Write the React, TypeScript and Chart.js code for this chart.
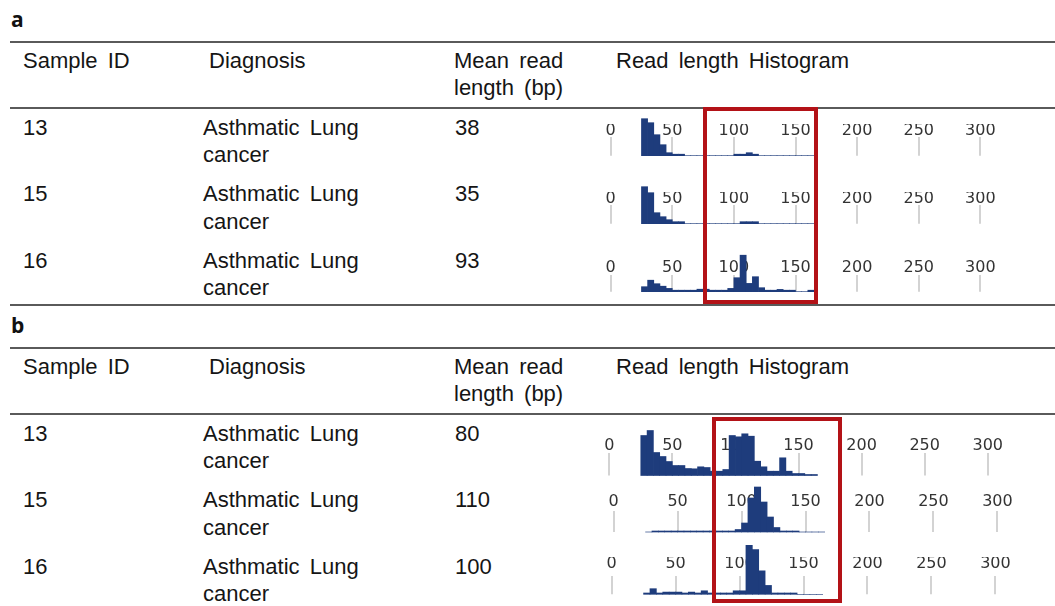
import React, { useEffect, useRef } from 'react';
import { Chart, registerables } from 'chart.js';

Chart.register(...registerables);

// ---- data ----
const binStarts = [25, 30, 35, 40, 45, 50, 55, 60, 65, 70, 75, 80, 85, 90, 95, 100, 105, 110, 115, 120, 125, 130, 135, 140, 145, 150, 155, 160];
const binWidth = 5;
const tickValues = [0, 50, 100, 150, 200, 250, 300];

const histA13 = [37, 33, 21, 11, 3, 1.5, 1.5, 0, 0, 0, 0, 0, 0, 0, 0, 1.5, 1.5, 3, 1.5, 0, 0, 0, 0, 0, 0, 0, 0, 0];
const histA15 = [37, 31, 11, 7, 4, 2, 2, 0, 0, 0, 0, 0, 0, 0, 0, 0, 2, 2, 2, 0, 0, 0, 0, 0, 0, 0, 0, 0];
const histA16 = [5, 11.5, 8, 5.5, 3.3, 1.5, 1.5, 1.5, 1.5, 2.5, 2.5, 1.5, 1.5, 1.5, 3.3, 14, 36.5, 8.3, 15, 4, 1.5, 1.5, 2.3, 1.5, 1.5, 0, 0, 1.5];
const histB13 = [40, 45, 23, 19, 14, 10, 10, 7, 6.7, 8.7, 8, 4.3, 4.3, 6, 40, 38.7, 41.7, 39.3, 14.3, 8.7, 4.3, 4.3, 17.7, 4.3, 2, 2, 1, 1];
const histB15 = [0, 1, 1, 1, 1, 1, 1, 1, 1, 1, 1, 1, 1, 1, 2.5, 9, 34, 45, 30, 15, 4.5, 1, 1, 1, 0, 0, 0, 0];
const histB16 = [1, 4.3, 1, 1.7, 1.7, 1.7, 1, 1.7, 1, 2.7, 1, 1, 1, 1, 2.7, 2.7, 39, 34.3, 18, 6.8, 1, 1, 1, 1, 0, 0, 0, 0];

const headerTexts = ['Sample ID', 'Diagnosis', 'Mean read', 'length (bp)', 'Read length Histogram'];
const sampleIds = ['13', '15', '16'];
const diagnosisLines = ['Asthmatic Lung', 'cancer'];
const meanReadA = [38, 35, 93];
const meanReadB = [80, 110, 100];
const panelLabels = ['a', 'b'];

type Geo = { x0: number; k: number; labelCenter: number; gridTop: number; base: number };

const XMIN = -20;
const XMAX = 320;
const TICK_FONT = 16;
const TICK_LH_FACTOR = 0.8;
const TICK_LH = TICK_FONT * TICK_LH_FACTOR;
const LABEL_SHIFT = 2.5;

function Histogram({ counts, geo }: { counts: number[]; geo: Geo }) {
  const ref = useRef<HTMLCanvasElement>(null);
  const left = Math.round(geo.x0 + XMIN * geo.k);
  const width = Math.round((XMAX - XMIN) * geo.k);
  const pad = Math.max(0, geo.gridTop - (geo.labelCenter + LABEL_SHIFT) - TICK_LH / 2);
  const axisH = TICK_LH + 2 * pad;
  const chartH = geo.base - geo.gridTop;
  const top = Math.floor(geo.gridTop - axisH - 12);
  const padTop = geo.gridTop - axisH - top;
  const height = Math.ceil(padTop + axisH + chartH + 3);
  const padBottom = height - padTop - axisH - chartH;

  useEffect(() => {
    if (!ref.current) return;
    const chart = new Chart(ref.current, {
      type: 'bar',
      data: {
        datasets: [
          {
            data: binStarts.map((b, i) => ({ x: b + binWidth / 2, y: counts[i] })),
            backgroundColor: '#1e3c7c',
            borderWidth: 0,
            barPercentage: 1,
            categoryPercentage: 1,
            clip: false as any,
          } as any,
        ],
      },
      options: {
        animation: false,
        responsive: false,
        maintainAspectRatio: false,
        events: [],
        layout: { padding: { top: padTop, bottom: padBottom, left: 0, right: 0 } },
        plugins: { legend: { display: false }, tooltip: { enabled: false } },
        scales: {
          x: {
            type: 'linear',
            position: 'top',
            min: XMIN,
            max: XMAX,
            offset: false,
            afterBuildTicks: (s: any) => {
              s.ticks = tickValues.map((v) => ({ value: v }));
            },
            grid: { color: '#d3d3d3', lineWidth: 2, drawTicks: false, offset: false },
            border: { display: false },
            ticks: {
              padding: pad,
              color: '#333333',
              autoSkip: false,
              maxRotation: 0,
              font: { family: '"DejaVu Sans"', size: TICK_FONT, lineHeight: TICK_LH_FACTOR },
              callback: (v: any) => String(v),
            },
          },
          y: { display: false, min: 0, max: chartH },
        },
      } as any,
    });
    return () => chart.destroy();
  }, []);

  return (
    <canvas
      ref={ref}
      width={width}
      height={height}
      style={{ position: 'absolute', left, top, width, height }}
    />
  );
}

const textStyle: React.CSSProperties = {
  position: 'absolute',
  fontFamily: '"Liberation Sans", Arial, sans-serif',
  fontSize: 22,
  lineHeight: '27.4px',
  wordSpacing: 4,
  color: '#151515',
  whiteSpace: 'nowrap',
  margin: 0,
};

function Txt({ x, y, children }: { x: number; y: number; children: React.ReactNode }) {
  return <div style={{ ...textStyle, left: x, top: y }}>{children}</div>;
}

function HLine({ y }: { y: number }) {
  return <div style={{ position: 'absolute', left: 10, top: y, width: 1045, height: 2, background: '#5a5a5a' }} />;
}

function Panel({ dy, label, means, bottomLine }: { dy: number; label: string; means: number[]; bottomLine: boolean }) {
  const rowTops = [113.7, 180.2, 246.7];
  return (
    <>
      <div
        style={{
          position: 'absolute',
          left: 11,
          top: dy + 6,
          fontFamily: '"Open Sans", "Liberation Sans", sans-serif',
          fontWeight: 700,
          fontSize: 21,
          lineHeight: '26px',
          color: '#111',
        }}
      >
        {label}
      </div>
      <HLine y={dy + 41} />
      <Txt x={23} y={dy + 47}>{headerTexts[0]}</Txt>
      <Txt x={209} y={dy + 47}>{headerTexts[1]}</Txt>
      <Txt x={454} y={dy + 47}>
        {headerTexts[2]}
        <br />
        {headerTexts[3]}
      </Txt>
      <Txt x={616} y={dy + 47}>{headerTexts[4]}</Txt>
      <HLine y={dy + 107} />
      {sampleIds.map((id, i) => (
        <React.Fragment key={id}>
          <Txt x={23} y={dy + rowTops[i]}>{id}</Txt>
          <Txt x={203} y={dy + rowTops[i]}>
            {diagnosisLines[0]}
            <br />
            {diagnosisLines[1]}
          </Txt>
          <Txt x={455} y={dy + rowTops[i]}>{String(means[i])}</Txt>
        </React.Fragment>
      ))}
      {bottomLine && <HLine y={dy + 304} />}
    </>
  );
}

export default function App() {
  const geoA13: Geo = { x0: 611, k: 1.2333, labelCenter: 128, gridTop: 137, base: 155.7 };
  const geoA15: Geo = { x0: 611, k: 1.2333, labelCenter: 196, gridTop: 205, base: 223.7 };
  const geoA16: Geo = { x0: 611, k: 1.2333, labelCenter: 265, gridTop: 275, base: 291.7 };
  const geoB13: Geo = { x0: 609.3, k: 1.263, labelCenter: 443, gridTop: 453, base: 475.5 };
  const geoB15: Geo = { x0: 613.3, k: 1.278, labelCenter: 499, gridTop: 511, base: 532 };
  const geoB16: Geo = { x0: 611.7, k: 1.278, labelCenter: 566, gridTop: 580, base: 594.3 };

  return (
    <div style={{ position: 'absolute', left: 0, top: 0, width: 1055, height: 606, background: '#fff', overflow: 'hidden' }}>
      <Panel dy={0} label={panelLabels[0]} means={meanReadA} bottomLine={true} />
      <Panel dy={306} label={panelLabels[1]} means={meanReadB} bottomLine={false} />
      <Histogram counts={histA13} geo={geoA13} />
      <Histogram counts={histA15} geo={geoA15} />
      <Histogram counts={histA16} geo={geoA16} />
      <Histogram counts={histB13} geo={geoB13} />
      <Histogram counts={histB15} geo={geoB15} />
      <Histogram counts={histB16} geo={geoB16} />
      <div style={{ position: 'absolute', left: 703, top: 107, width: 115, height: 197, border: '4px solid #b31217', boxSizing: 'border-box' }} />
      <div style={{ position: 'absolute', left: 712, top: 417, width: 130, height: 186, border: '4px solid #b31217', boxSizing: 'border-box' }} />
    </div>
  );
}
